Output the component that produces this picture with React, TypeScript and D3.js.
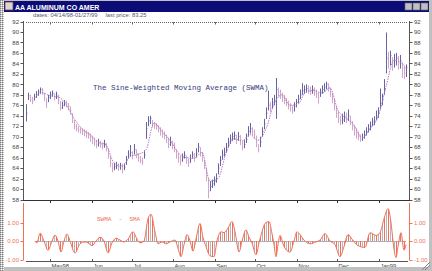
import React from 'react';
import * as d3 from 'd3';

const title = 'AA ALUMINUM CO AMER';
const header = 'dates: 04/14/98-01/27/99     last price: 83.25';
const studyTitle = 'The Sine-Weighted Moving Average (SWMA)';
const oscTitle = 'SWMA  -  SMA';

const priceTicks = [58, 60, 62, 64, 66, 68, 70, 72, 74, 76, 78, 80, 82, 84, 86, 88, 90, 92];
const oscTicks = [1, 0, -1];
const monthLabels = ['May98', 'Jun', 'Jul', 'Aug', 'Sep', 'Oct', 'Nov', 'Dec', 'Jan99'];
const monthStarts = ['1998-05-01', '1998-06-01', '1998-07-01', '1998-08-01', '1998-09-01', '1998-10-01', '1998-11-01', '1998-12-01', '1999-01-01'];
const dateStart = '1998-04-14';
const dateEnd = '1999-01-21';

const highs = [
  76.2, 78.4, 78.0, 77.6, 78.2, 78.7, 79.0, 79.4, 79.3, 78.4,
  77.4, 78.0, 78.6, 78.8, 78.3, 78.6, 78.0, 76.8, 76.7, 77.0,
  76.9, 76.4, 75.8, 74.5, 73.2, 72.4, 72.0, 71.8, 71.6, 71.4,
  71.2, 70.9, 70.6, 70.2, 69.8, 69.4, 69.6, 69.2, 68.9, 69.4,
  68.8, 67.8, 66.2, 65.0, 65.0, 65.2, 64.9, 65.0, 64.8, 64.9,
  66.3, 67.4, 68.4, 67.2, 68.6, 67.6, 66.8, 66.3, 66.0, 67.4,
  72.8, 73.9, 74.0, 73.2, 72.8, 72.6, 72.2, 71.8, 71.4, 71.0,
  70.4, 69.8, 70.0, 69.2, 68.9, 67.6, 66.9, 66.4, 66.8, 67.2,
  66.4, 65.8, 66.6, 67.2, 66.9, 67.8, 68.8, 68.0, 67.0, 65.6,
  64.0, 62.0, 61.5, 61.8, 62.4, 63.0, 64.9, 66.3, 67.5, 67.9,
  68.8, 69.8, 70.4, 70.8, 71.0, 70.4, 70.9, 70.3, 69.2, 69.4,
  70.6, 72.0, 72.6, 71.8, 71.4, 70.2, 68.6, 70.0, 71.8, 73.4,
  75.6, 78.8, 76.6, 77.4, 78.0, 81.2, 79.4, 79.0, 78.4, 78.0,
  77.4, 76.9, 76.4, 76.0, 76.6, 77.2, 78.0, 79.0, 80.2, 79.8,
  80.0, 79.8, 79.6, 79.8, 79.4, 79.0, 78.4, 79.2, 79.8, 80.2,
  80.5, 80.2, 79.4, 78.4, 77.2, 75.8, 74.8, 74.0, 74.4, 74.8,
  74.6, 75.2, 74.0, 73.0, 72.2, 71.6, 71.0, 70.4, 70.6, 71.2,
  71.8, 72.4, 72.9, 73.6, 73.9, 75.0, 75.6, 79.2, 78.2, 81.0,
  89.9, 86.2, 86.4, 85.2, 85.8, 86.0, 85.4, 85.6, 84.2, 83.4,
  83.8
];
const lows = [
  72.9, 77.0, 76.6, 76.2, 76.9, 77.4, 77.8, 78.2, 78.0, 76.8,
  75.5, 76.6, 77.2, 77.6, 76.9, 77.2, 76.2, 75.0, 75.3, 75.8,
  75.6, 75.0, 74.2, 72.6, 71.4, 71.0, 70.8, 70.6, 70.3, 70.1,
  69.8, 69.6, 69.0, 68.6, 68.2, 67.8, 68.1, 67.9, 67.6, 67.9,
  67.2, 65.8, 64.2, 63.2, 63.6, 63.8, 63.5, 63.7, 63.0, 63.6,
  64.6, 65.8, 66.2, 65.7, 66.6, 65.9, 65.2, 64.9, 64.6, 65.8,
  69.6, 72.0, 72.4, 71.8, 71.5, 71.3, 70.8, 70.2, 69.8, 69.5,
  68.8, 67.8, 68.2, 67.6, 67.0, 65.8, 65.0, 64.5, 65.2, 65.8,
  64.8, 64.2, 65.0, 65.8, 65.2, 66.0, 67.0, 66.2, 65.2, 63.8,
  61.5, 58.2, 59.6, 60.2, 60.6, 61.2, 62.8, 64.4, 65.6, 66.2,
  67.0, 68.0, 68.6, 69.2, 69.4, 68.6, 69.2, 68.4, 67.4, 67.8,
  68.8, 70.0, 70.6, 70.2, 69.6, 68.0, 67.0, 68.0, 70.0, 71.4,
  73.4, 75.0, 74.6, 75.4, 76.0, 73.4, 77.6, 77.2, 76.6, 76.2,
  75.8, 75.2, 74.8, 74.4, 74.8, 75.6, 76.4, 77.2, 78.0, 78.2,
  78.4, 78.2, 78.0, 78.2, 77.8, 77.4, 76.3, 77.6, 78.2, 78.6,
  79.0, 78.6, 77.6, 76.4, 75.0, 73.6, 72.6, 72.2, 72.4, 72.8,
  72.6, 73.0, 72.2, 71.2, 70.2, 69.6, 69.3, 69.0, 69.2, 69.6,
  70.2, 70.8, 71.2, 72.0, 72.2, 73.2, 73.6, 75.2, 76.0, 78.0,
  82.1, 83.0, 83.6, 82.6, 83.2, 83.6, 82.8, 83.0, 81.2, 81.0,
  81.4
];
const closes = [
  74.5, 77.8, 77.2, 76.8, 77.5, 78.0, 78.5, 79.0, 78.8, 77.5,
  76.5, 77.5, 78.0, 78.3, 77.5, 78.0, 77.0, 75.5, 76.0, 76.5,
  76.3, 75.8, 75.0, 73.0, 72.0, 71.5, 71.3, 71.2, 71.0, 70.8,
  70.5, 70.3, 69.8, 69.5, 69.0, 68.5, 68.8, 68.5, 68.2, 68.6,
  68.0, 66.5, 65.0, 64.0, 64.3, 64.5, 64.2, 64.5, 64.0, 64.2,
  65.5, 66.5, 67.0, 66.5, 67.5, 66.8, 66.0, 65.5, 65.2, 66.5,
  71.5, 73.0, 73.5, 72.5, 72.2, 72.0, 71.5, 71.0, 70.5, 70.2,
  69.5, 68.5, 69.0, 68.5, 68.0, 66.5, 66.0, 65.5, 66.0, 66.5,
  65.5, 65.0, 65.8, 66.5, 66.0, 66.8, 68.0, 67.0, 66.0, 64.5,
  62.5, 59.5, 60.5, 61.0, 61.5, 62.0, 64.0, 65.5, 66.5, 67.0,
  68.0, 69.0, 69.5, 70.0, 70.3, 69.5, 70.0, 69.5, 68.0, 68.5,
  69.5, 71.0, 71.5, 71.0, 70.5, 69.0, 67.5, 69.0, 71.0, 72.5,
  74.5, 76.0, 75.5, 76.5, 77.0, 79.0, 78.5, 78.0, 77.5, 77.0,
  76.5, 76.0, 75.5, 75.0, 75.8, 76.5, 77.2, 78.0, 78.8, 79.0,
  79.2, 79.0, 78.8, 79.0, 78.5, 78.2, 77.5, 78.5, 79.0, 79.5,
  80.0, 79.5, 78.5, 77.5, 76.0, 74.5, 73.5, 73.0, 73.2, 73.8,
  73.5, 74.0, 73.0, 72.0, 71.0, 70.5, 70.0, 69.5, 69.8, 70.3,
  71.0, 71.5, 72.0, 72.8, 73.0, 74.0, 74.5, 76.0, 77.0, 79.0,
  85.0, 84.5, 85.5, 84.0, 84.5, 85.0, 84.0, 84.5, 83.0, 82.0,
  83.25
];

const swmaIdx = [4, 8, 12, 16, 20, 24, 28, 32, 36, 40, 44, 48, 52, 56, 60, 64, 68, 72, 76, 80, 84, 88, 92, 96, 100, 104, 108, 112, 116, 120, 124, 128, 132, 136, 140, 144, 148, 152, 156, 160, 164, 168, 172, 176, 180, 184, 188, 190];
const swmaVals = [77.4, 78.4, 77.8, 77.6, 76.2, 73.5, 71.5, 70.4, 69.0, 68.4, 65.0, 64.3, 66.2, 66.6, 67.5, 72.6, 71.0, 69.3, 67.0, 66.0, 65.9, 67.0, 61.5, 62.0, 66.8, 69.6, 69.2, 70.4, 69.3, 71.5, 76.2, 78.0, 76.0, 76.2, 78.6, 78.8, 78.3, 79.3, 75.0, 73.5, 72.2, 69.8, 71.5, 73.8, 79.5, 84.6, 84.0, 83.0];

const oscIdx = [4.5, 5.5, 7, 9, 11, 13, 14.5, 16, 17.5, 19, 20.5, 22, 24.5, 27, 29.5, 31, 33, 35, 37, 39, 41, 43, 45, 47, 49, 51, 53.5, 55.5, 57, 59, 61, 62.5, 64.5, 66, 68, 70, 72, 74.5, 76, 77.5, 79, 80.5, 82, 83.5, 85, 87, 88.5, 90, 92, 94, 95.5, 97.5, 99, 101, 103, 104.5, 106.5, 108, 110, 111.5, 113, 115, 116.5, 118, 119.5, 121.5, 123, 124, 125, 126, 127, 129, 132, 134, 135.5, 137, 139, 142, 145, 147, 149.5, 152, 154.5, 157, 159, 161, 163, 166, 169.5, 172, 175, 177, 179, 181, 182.5, 183.5, 185, 186, 187.5, 189, 190];
const oscVals = [0, -0.1, 0.43, 0, -0.5, 0, 0.32, 0, -0.6, 0, 0.38, 0, -0.65, -0.15, -0.05, -0.1, -0.25, 0, 0.2, 0, -0.65, -0.1, 0.15, 0.05, -0.05, 0.1, 0.5, 0.1, -0.1, 0, 1.2, 1.45, 0.5, -0.15, -0.05, -0.15, -0.05, 0.05, -0.4, -0.85, -0.2, 0.35, 0, -0.55, 0.1, 0.95, 0.2, -0.3, -0.8, -0.85, 0, 0.5, 0.45, 0.7, 1.05, 0.5, -0.6, 0, 0.6, 0.2, -0.1, -0.75, -0.1, 0.5, 0.95, 1.05, 0.4, -0.2, -0.85, -0.2, 0.3, -0.3, -0.6, 0, 0.5, 0.35, 0.05, -0.15, -0.05, 0.05, 0.4, 0, -0.2, -0.85, -0.3, 0.35, 0.1, -0.25, -0.35, 0.45, 0.3, 0.45, 1.2, 1.75, 1.0, 0, -0.9, -0.3, 0.45, -0.5, -0.2];

const W = 432;
const H = 271;

export default function App() {
  const n = closes.length;
  const x = d3.scaleLinear().domain([0, n - 1]).range([26, 406]);
  const xt = d3.scaleTime().domain([new Date(dateStart + 'T00:00'), new Date(dateEnd + 'T00:00')]).range([27, 406]);
  const y = d3.scaleLinear().domain([58, 92]).range([199.5, 21.5]);
  const yo = d3.scaleLinear().domain([-1, 1]).range([259.5, 222.5]);

  const months = monthStarts.map((d, i) => ({ x: Math.round(xt(new Date(d + 'T00:00'))) + 0.5, label: monthLabels[i] }));

  const swmaLine = d3.line<number>().x((d, i) => x(swmaIdx[i])).y((d) => y(d)).curve(d3.curveMonotoneX)(swmaVals) || '';
  const oscLine = d3.line<number>().x((d, i) => x(oscIdx[i])).y((d) => yo(d)).curve(d3.curveMonotoneX)(oscVals) || '';
  const oscArea = d3.area<number>().x((d, i) => x(oscIdx[i])).y0(yo(0)).y1((d) => yo(d)).curve(d3.curveMonotoneX)(oscVals) || '';

  const axisFont = 'Liberation Sans, Arial, sans-serif';
  const axisColor = '#444';
  const oscColor = '#f07058';

  return (
    <svg width={W} height={H} style={{ position: 'fixed', left: 0, top: 0, background: '#fff' }} xmlns="http://www.w3.org/2000/svg">
      <defs>
        <pattern id="dither" width="2" height="2" patternUnits="userSpaceOnUse">
          <rect width="2" height="2" fill="#c0c0c0" />
          <rect width="1" height="1" fill="#808080" />
          <rect x="1" y="1" width="1" height="1" fill="#ffffff" />
        </pattern>
        <pattern id="hatch" width="4" height="4" patternUnits="userSpaceOnUse">
          <rect x="0" y="0" width="1" height="4" fill={oscColor} />
          <rect x="2" y="0" width="1" height="4" fill="#b8b8c0" />
        </pattern>
      </defs>
      {/* window frame */}
      <rect x={0} y={0} width={W} height={H} fill="#c0c0c0" />
      <rect x={0} y={0} width={4} height={H} fill="url(#dither)" />
      <rect x={4} y={1} width={425} height={11} fill="#0c0c78" />
      <rect x={5} y={2} width={8} height={8} fill="#d8d8d8" stroke="#804040" strokeWidth={0.8} />
      <text x={15} y={9.5} fill="#fff" fontFamily={axisFont} fontWeight="bold" fontSize={7}>{title}</text>
      {[0, 1, 2].map((k) => (
        <rect key={k} x={405 + k * 8} y={3} width={7} height={7} fill="#c0c0c0" stroke="#606060" strokeWidth={0.6} />
      ))}
      <rect x={4} y={12} width={425} height={255} fill="#ffffff" />

      <text x={33} y={17} fontFamily={axisFont} fontSize={5.8} fill="#555577" xmlSpace="preserve">{header}</text>

      {/* top border dotted */}
      <line x1={26} x2={408} y1={22.5} y2={22.5} stroke="#666" strokeDasharray="1,1" />
      {months.map((m) => (
        <line key={'tt' + m.label} x1={m.x} x2={m.x} y1={22} y2={24.5} stroke="#666" />
      ))}

      {/* left & right price axes */}
      <line x1={23.5} x2={23.5} y1={21} y2={200} stroke="#555" />
      <line x1={409.5} x2={409.5} y1={21} y2={200} stroke="#555" />
      {priceTicks.map((t) => (
        <g key={'pt' + t}>
          <line x1={20.5} x2={23.5} y1={Math.round(y(t)) + 0.5} y2={Math.round(y(t)) + 0.5} stroke="#555" />
          <text x={19} y={y(t) + 2.2} textAnchor="end" fontFamily={axisFont} fontSize={6} fill={axisColor}>{t}</text>
          <line x1={409.5} x2={412.5} y1={Math.round(y(t)) + 0.5} y2={Math.round(y(t)) + 0.5} stroke="#555" />
          <text x={414} y={y(t) + 2.2} fontFamily={axisFont} fontSize={6} fill={axisColor}>{t}</text>
        </g>
      ))}

      <text x={93} y={89.5} fontFamily="Liberation Mono, Courier New, monospace" fontSize={7.5} fill="#3a3a80" xmlSpace="preserve">{studyTitle}</text>

      {/* price bars */}
      {closes.map((c, i) => {
        const xi = Math.round(x(i)) + 0.5;
        const down = i > 0 && c < closes[i - 1];
        const col = down ? '#d2a6cc' : '#6464a6';
        return (
          <g key={'b' + i}>
            <line x1={xi} x2={xi} y1={y(highs[i])} y2={y(lows[i])} stroke={col} strokeWidth={1} />
            <line x1={xi} x2={xi + 1} y1={y(c)} y2={y(c)} stroke={col} strokeWidth={0.8} />
          </g>
        );
      })}
      <path d={swmaLine} fill="none" stroke="#b070b0" strokeWidth={0.9} strokeDasharray="1.5,1" />

      {/* separator */}
      <line x1={23} x2={410} y1={200.5} y2={200.5} stroke="#333" />
      {months.map((m) => (
        <line key={'st' + m.label} x1={m.x} x2={m.x} y1={200} y2={203} stroke="#333" />
      ))}

      {/* oscillator axes */}
      <line x1={23.5} x2={23.5} y1={203} y2={260} stroke={oscColor} />
      <line x1={409.5} x2={409.5} y1={203} y2={260} stroke={oscColor} />
      {oscTicks.map((t) => (
        <g key={'ot' + t}>
          <line x1={20.5} x2={23.5} y1={Math.round(yo(t)) + 0.5} y2={Math.round(yo(t)) + 0.5} stroke={oscColor} />
          <text x={19} y={yo(t) + 2.2} textAnchor="end" fontFamily={axisFont} fontSize={6} fill={oscColor}>{t.toFixed(2)}</text>
          <line x1={409.5} x2={412.5} y1={Math.round(yo(t)) + 0.5} y2={Math.round(yo(t)) + 0.5} stroke={oscColor} />
          <text x={414} y={yo(t) + 2.2} fontFamily={axisFont} fontSize={6} fill={oscColor}>{t.toFixed(2)}</text>
        </g>
      ))}
      <text x={97} y={221} fontFamily="Liberation Mono, Courier New, monospace" fontSize={6} fill={oscColor} xmlSpace="preserve">{oscTitle}</text>

      <line x1={x(oscIdx[0])} x2={406} y1={Math.round(yo(0)) + 0.5} y2={Math.round(yo(0)) + 0.5} stroke="#b0b0b8" />
      <path d={oscArea} fill="url(#hatch)" />
      <path d={oscLine} fill="none" stroke={oscColor} strokeWidth={1} />

      {/* bottom axis */}
      <line x1={26} x2={408} y1={261.5} y2={261.5} stroke="#555" />
      {months.map((m) => (
        <g key={'bt' + m.label}>
          <line x1={m.x} x2={m.x} y1={259} y2={262} stroke="#555" />
          <text x={m.x + 1} y={267.5} fontFamily={axisFont} fontSize={5.8} fill={axisColor}>{m.label}</text>
        </g>
      ))}

      {/* bottom border */}
      <rect x={4} y={267} width={425} height={4} fill="#c0c0c0" />
      <line x1={422} y1={270} x2={430} y2={262} stroke="#808080" />
      <line x1={425} y1={270} x2={430} y2={265} stroke="#808080" />
    </svg>
  );
}
